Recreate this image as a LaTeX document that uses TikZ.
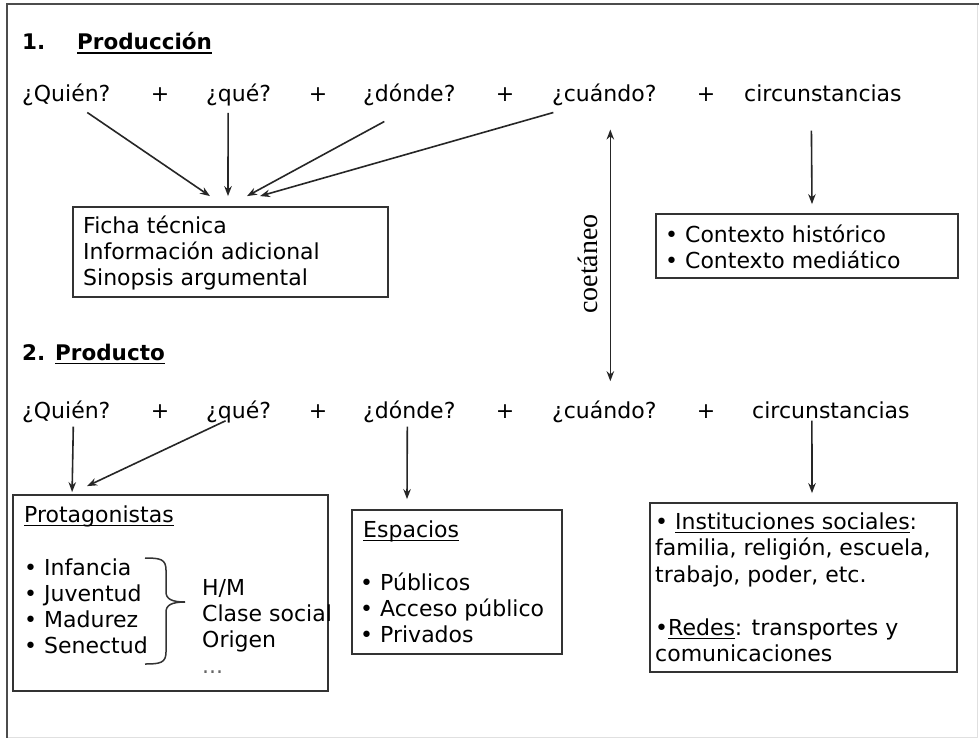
\documentclass[tikz,border=0pt]{standalone}
\usepackage{fontspec}
\setmainfont{DejaVu Sans}
\newfontfamily\coetfont{Liberation Serif}
\newsavebox\ulbox
\newcommand{\ulx}[1]{\sbox\ulbox{#1}\leavevmode\rlap{\rule[-4pt]{\wd\ulbox}{1.5pt}}\usebox\ulbox}
\usetikzlibrary{arrows.meta,calc}
\begin{document}
\begin{tikzpicture}[x=1pt,y=-1pt,
  txt/.style={inner sep=0pt, anchor=base west, font=\fontsize{22}{26}\selectfont, text=black},
  ctr/.style={inner sep=0pt, anchor=base, font=\fontsize{22}{26}\selectfont, text=black},
  head/.style={inner sep=0pt, anchor=base west, font=\fontsize{21.5}{26}\selectfont\bfseries, text=black},
  boxr/.style={draw=black!80, line width=1.8pt, inner sep=0pt},
  arr/.style={draw=black!85, line width=1.6pt, -{Stealth[length=10pt,width=7.5pt]}},
  dbl/.style={draw=black!85, line width=1.6pt, {Stealth[length=10pt,width=7.5pt]}-{Stealth[length=10pt,width=7.5pt]}},
  brc/.style={draw=black!80, line width=1.5pt},
]
\useasboundingbox (0,0) rectangle (979,738);
\fill[white] (0,0) rectangle (979,738);
% outer frame
\draw[black!12, line width=1pt] (977,4) -- (977,737) -- (7,737);
\draw[black!70, line width=2pt] (7,738) -- (7,4) -- (979,4);

% headings
\node[head] (h1n) at (22,50) {1.};
\node[head] (h1) at (77,50) {\ulx{Producción}};
\node[head] (h2n) at (22,360) {2.};
\node[head] (h2) at (55,360) {\ulx{Producto}};

% row 1
\node[txt] (q1) at (22,102) {¿Quién?};
\node[ctr] (p1a) at (160,102) {+};
\node[txt] (w1) at (206,102) {¿qué?};
\node[ctr] (p1b) at (318,102) {+};
\node[txt] (d1) at (363,102) {¿dónde?};
\node[ctr] (p1c) at (505,102) {+};
\node[txt] (c1) at (552,102) {¿cuándo?};
\node[ctr] (p1d) at (706,102) {+};
\node[txt] (s1) at (744,102) {circunstancias};

% row 2
\node[txt] (q2) at (22,418) {¿Quién?};
\node[ctr] (p2a) at (160,418) {+};
\node[txt] (w2) at (206,418) {¿qué?};
\node[ctr] (p2b) at (318,418) {+};
\node[txt] (d2) at (363,418) {¿dónde?};
\node[ctr] (p2c) at (505,418) {+};
\node[txt] (c2) at (552,418) {¿cuándo?};
\node[ctr] (p2d) at (706,418) {+};
\node[txt] (s2) at (752,418) {circunstancias};

% boxes
\node[boxr, minimum width=315pt, minimum height=90pt] (box1) at (230.5,252) {};
\node[boxr, minimum width=302pt, minimum height=64pt] (box2) at (807,246) {};
\node[boxr, minimum width=315pt, minimum height=196pt] (box3) at (170.5,593) {};
\node[boxr, minimum width=210pt, minimum height=144pt] (box4) at (457,582) {};
\node[boxr, minimum width=307pt, minimum height=169pt] (box5) at (803.5,587.5) {};

% box 1 text
\node[txt] (b1a) at (83,233) {Ficha técnica};
\node[txt] (b1b) at (83,259) {Información adicional};
\node[txt] (b1c) at (83,285) {Sinopsis argumental};

% box 2 text
\node[txt] (b2a) at (665,242) {• Contexto histórico};
\node[txt] (b2b) at (665,268) {• Contexto mediático};

% box 3 text
\node[txt] (b3t) at (24,522) {\ulx{Protagonistas}};
\node[txt] (b3a) at (24,575) {• Infancia};
\node[txt] (b3b) at (24,601) {• Juventud};
\node[txt] (b3c) at (24,627) {• Madurez};
\node[txt] (b3d) at (24,653) {• Senectud};
\node[txt] (b3e) at (202,595) {H/M};
\node[txt] (b3f) at (202,621) {Clase social};
\node[txt] (b3g) at (202,647) {Origen};
\node[txt, text=black!60] (b3h) at (202,673) {...};
\draw[brc] (145,558) .. controls (160,558) and (166,559) .. (166,570) -- (166,592)
  .. controls (166,599) and (172,602) .. (185,602)
  .. controls (172,602) and (166,605) .. (166,612) -- (166,652)
  .. controls (166,663) and (160,664) .. (145,664);

% box 4 text
\node[txt] (b4t) at (363,537) {\ulx{Espacios}};
\node[txt] (b4a) at (360,590) {• Públicos};
\node[txt] (b4b) at (360,616) {• Acceso público};
\node[txt] (b4c) at (360,642) {• Privados};

% box 5 text
\node[txt] (b5a) at (655,529) {• \ulx{Instituciones sociales}:};
\node[txt] (b5b) at (655,555) {familia, religión, escuela,};
\node[txt] (b5c) at (655,582) {trabajo, poder, etc.};
\node[txt] (b5d) at (655,635) {•\ulx{Redes}: transportes y};
\node[txt] (b5e) at (655,661) {comunicaciones};

% coetaneo
\node[inner sep=0pt, rotate=90, font=\coetfont\fontsize{28}{30}\selectfont, text=black] (coet) at (588,264) {coetáneo};

% arrows production
\draw[arr] ($(q1.south)+(21,6)$) -- ($(box1.north)+(-20.5,-10)$);
\draw[arr] ($(w1.south)+(-10.5,6)$) -- ($(box1.north)+(-2.5,-10)$);
\draw[arr] ($(d1.south)+(-25,15)$) -- ($(box1.north)+(16.5,-10)$);
\draw[arr] ($(c1.south)+(-51,6)$) -- ($(box1.north)+(29.5,-10)$);
\draw[arr] ($(s1.south)+(-11.5,28)$) -- ($(box2.north)+(5,-9)$);
\draw[dbl] ($(c1.south)+(6,23)$) -- ($(c2.north)+(6,-19)$);

% arrows product
\draw[arr] ($(q2.south)+(7,4)$) -- ($(box3.north west)+(60,-2)$);
\draw[arr] ($(w2.south)+(-13,-2)$) -- ($(box3.north west)+(75,-8)$);
\draw[arr] ($(d2.south)+(-2,4)$) -- ($(box4.north)+(-50,-10)$);
\draw[arr] ($(s2.south)+(-19,2)$) -- ($(box5.north)+(8.5,-9)$);
\end{tikzpicture}
\end{document}
